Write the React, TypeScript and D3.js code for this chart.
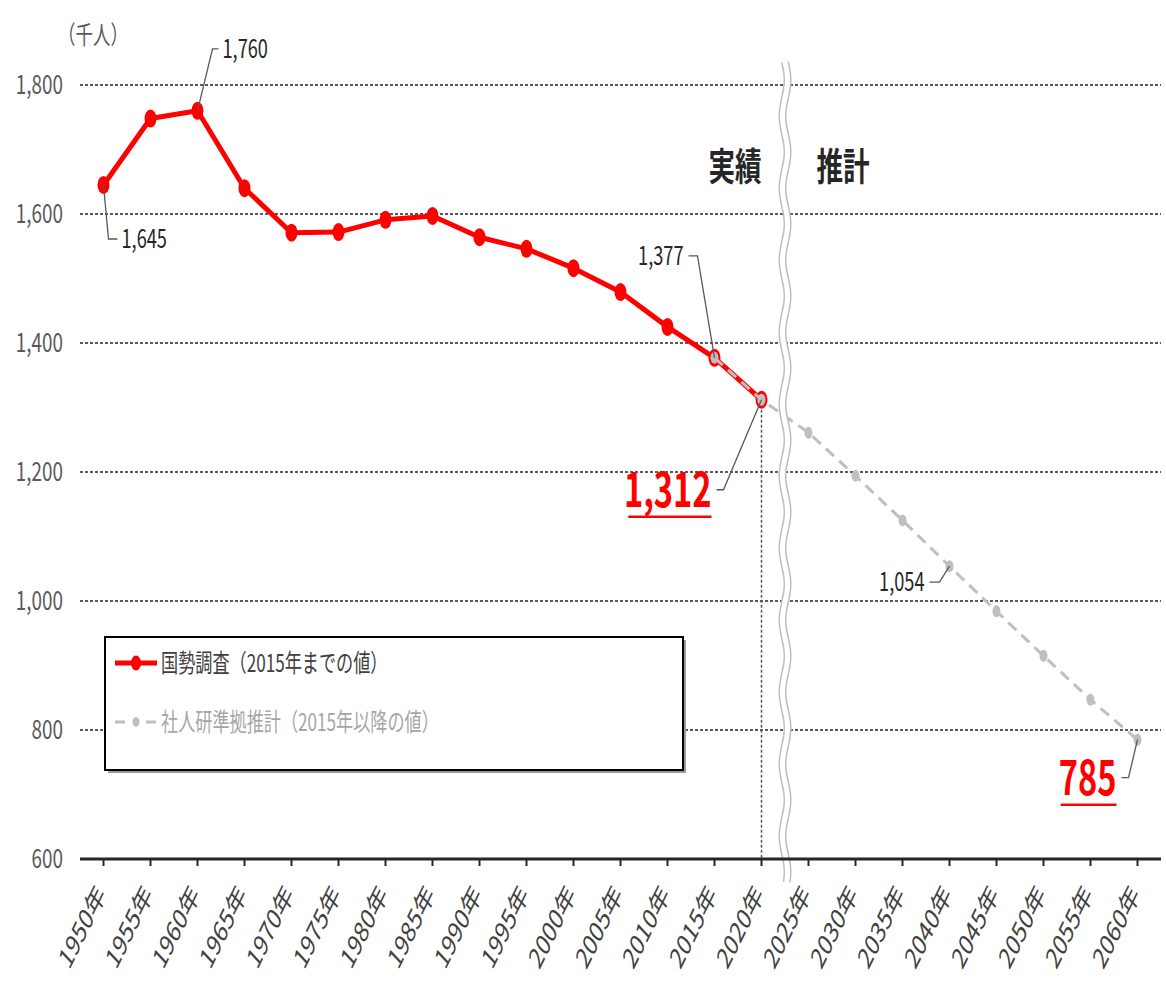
import React from "react";
import * as d3 from "d3";

const years = [1950,1955,1960,1965,1970,1975,1980,1985,1990,1995,2000,2005,2010,2015,2020,2025,2030,2035,2040,2045,2050,2055,2060];
const censusYears = [1950,1955,1960,1965,1970,1975,1980,1985,1990,1995,2000,2005,2010,2015,2020];
const censusValues = [1645,1748,1760,1640,1571,1572,1591,1597,1564,1546,1516,1479,1425,1377,1312];
const projYears = [2015,2020,2025,2030,2035,2040,2045,2050,2055,2060];
const projValues = [1377,1312,1261,1194,1125,1054,984,915,847,785];
const yTicks = [600,800,1000,1200,1400,1600,1800];
const unitLabel = "（千人）";
const legendLabels = ["国勢調査（2015年までの値）", "社人研準拠推計（2015年以降の値）"];
const periodLabels = ["実績", "推計"];

const FONT = "'Noto Sans CJK JP', 'Noto Sans', sans-serif";
const SX = 0.7;

function CText(props: any) {
  const { x, y, sx = SX, anchor = "start", size = 26, fill = "#404040", weight = "normal", children } = props;
  return (
    <text transform={`translate(${x},${y}) scale(${sx},1)`} textAnchor={anchor} fontSize={size}
      fill={fill} fontWeight={weight} fontFamily={FONT}>{children}</text>
  );
}

export default function App() {
  const W = 1166, H = 995;
  const x = d3.scalePoint<number>().domain(years).range([80, 1161]).padding(0.5);
  const y = d3.scaleLinear().domain([600, 1800]).range([859, 85]);
  const x0 = 80, x1 = 1161;

  const censusPts = censusYears.map((yr, i) => [x(yr)!, y(censusValues[i])] as [number, number]);
  const projPts = projYears.map((yr, i) => [x(yr)!, y(projValues[i])] as [number, number]);
  const line = d3.line();

  // wavy break line
  const bx = (x(2020)! + x(2025)!) / 2;
  const wave: [number, number][] = d3.range(62, 884, 2).map((yy) => [bx + 2.5 * Math.sin((2 * Math.PI * (yy - 62)) / 72), yy]);
  const wavePath = line(wave)!;

  // annotations: year, value, leader offsets, label
  const ann = [
    { yr: 1960, v: 1760, kx: 15, ky: -62, hx: 6, big: false, side: "right" },
    { yr: 1950, v: 1645, kx: 5, ky: 54, hx: 9, big: false, side: "right" },
    { yr: 2015, v: 1377, kx: -17, ky: -102, hx: -9, big: false, side: "left" },
    { yr: 2020, v: 1312, kx: -38, ky: 90, hx: -7, big: true, side: "left" },
    { yr: 2040, v: 1054, kx: -10, ky: 16, hx: -10, big: false, side: "left" },
    { yr: 2060, v: 785, kx: -9, ky: 38, hx: -7, big: true, side: "left" },
  ];
  const fmt = d3.format(",");

  return (
    <svg width={W} height={H} style={{ position: "absolute", left: 0, top: 0, background: "#fff" }}>
      <rect x={0} y={0} width={W} height={H} fill="#fff" />
      {/* gridlines */}
      {yTicks.filter((t) => t > 600).map((t) => (
        <line key={t} x1={x0} x2={x1} y1={y(t)} y2={y(t)} stroke="#5a5a5a" strokeWidth={2} strokeDasharray="3,2" />
      ))}
      {/* y tick labels */}
      {yTicks.map((t) => (
        <CText key={t} x={63} y={y(t) + 9} anchor="end" size={27} fill="#595959">{fmt(t)}</CText>
      ))}
      <CText x={58} y={44} size={25} fill="#595959">{unitLabel}</CText>

      {/* dotted vertical at 2020 */}
      <line x1={x(2020)} x2={x(2020)} y1={y(1312)} y2={859} stroke="#595959" strokeWidth={1.5} strokeDasharray="3,2" />

      {/* series */}
      <path d={line(censusPts)!} fill="none" stroke="#ff0000" strokeWidth={5} strokeLinejoin="round" />
      {censusPts.map((p, i) => (
        <ellipse key={i} cx={p[0]} cy={p[1]} rx={6} ry={9} fill="#ff0000" />
      ))}
      <path d={line(projPts)!} fill="none" stroke="#bfbfbf" strokeWidth={3} strokeDasharray="11,7" />
      {projPts.map((p, i) => (
        <ellipse key={i} cx={p[0]} cy={p[1]} rx={4} ry={6} fill="#bfbfbf" />
      ))}

      {/* break */}
      <path d={wavePath} fill="none" stroke="#bdbdbd" strokeWidth={8} />
      <path d={wavePath} fill="none" stroke="#fff" strokeWidth={5} />

      {/* axis */}
      <line x1={x0} x2={x1} y1={859} y2={859} stroke="#262626" strokeWidth={3} />
      {years.map((yr) => (
        <line key={yr} x1={x(yr)} x2={x(yr)} y1={859} y2={866} stroke="#262626" strokeWidth={2} />
      ))}
      {years.map((yr) => (
        <text key={yr} transform={`translate(${x(yr)! + 3},${895}) scale(0.68,1) rotate(-54)`} textAnchor="end"
          fontSize={29} fill="#404040" fontFamily={FONT}>{`${yr}年`}</text>
      ))}

      {/* period labels */}
      <CText x={735} y={180} anchor="middle" size={38} weight="bold" fill="#262626">{periodLabels[0]}</CText>
      <CText x={843} y={180} anchor="middle" size={38} weight="bold" fill="#262626">{periodLabels[1]}</CText>

      {/* annotations */}
      {ann.map((a, i) => {
        const px = x(a.yr)!, py = y(a.v);
        const kx = px + a.kx, ky = py + a.ky, hx = kx + a.hx;
        const tx = a.side === "right" ? hx + 4 : hx - 5;
        const size = a.big ? 48 : 26;
        const txt = fmt(a.v);
        const w = (txt.replace(/,/g, "").length * 0.57 + (txt.includes(",") ? 0.27 : 0)) * size * (a.big ? 0.68 : SX);
        return (
          <g key={i}>
            <polyline points={`${px},${py} ${kx},${ky} ${hx},${ky}`} fill="none" stroke="#595959" strokeWidth={1.3} />
            <CText x={tx} y={ky + (a.big ? 17 : 9)} anchor={a.side === "right" ? "start" : "end"} size={size}
              sx={a.big ? 0.68 : SX} weight={a.big ? "bold" : "normal"} fill={a.big ? "#ff0000" : "#262626"}>{txt}</CText>
            {a.big && <line x1={tx - w} x2={tx} y1={ky + 27} y2={ky + 27} stroke="#ff0000" strokeWidth={2.5} />}
          </g>
        );
      })}

      {/* legend */}
      <rect x={108} y={640} width={578} height={133} fill="#9a9a9a" />
      <rect x={105} y={637} width={578} height={133} fill="#fff" stroke="#000" strokeWidth={2} />
      <line x1={115} x2={157} y1={663} y2={663} stroke="#ff0000" strokeWidth={5} />
      <ellipse cx={136} cy={663} rx={5} ry={7.5} fill="#ff0000" />
      <CText x={161} y={672} size={24.5} fill="#404040">{legendLabels[0]}</CText>
      <line x1={115} x2={125} y1={722} y2={722} stroke="#bfbfbf" strokeWidth={3} />
      <line x1={146} x2={156} y1={722} y2={722} stroke="#bfbfbf" strokeWidth={3} />
      <ellipse cx={136} cy={722} rx={3.5} ry={5} fill="#bfbfbf" />
      <CText x={161} y={731} size={24.5} fill="#a6a6a6">{legendLabels[1]}</CText>
    </svg>
  );
}
